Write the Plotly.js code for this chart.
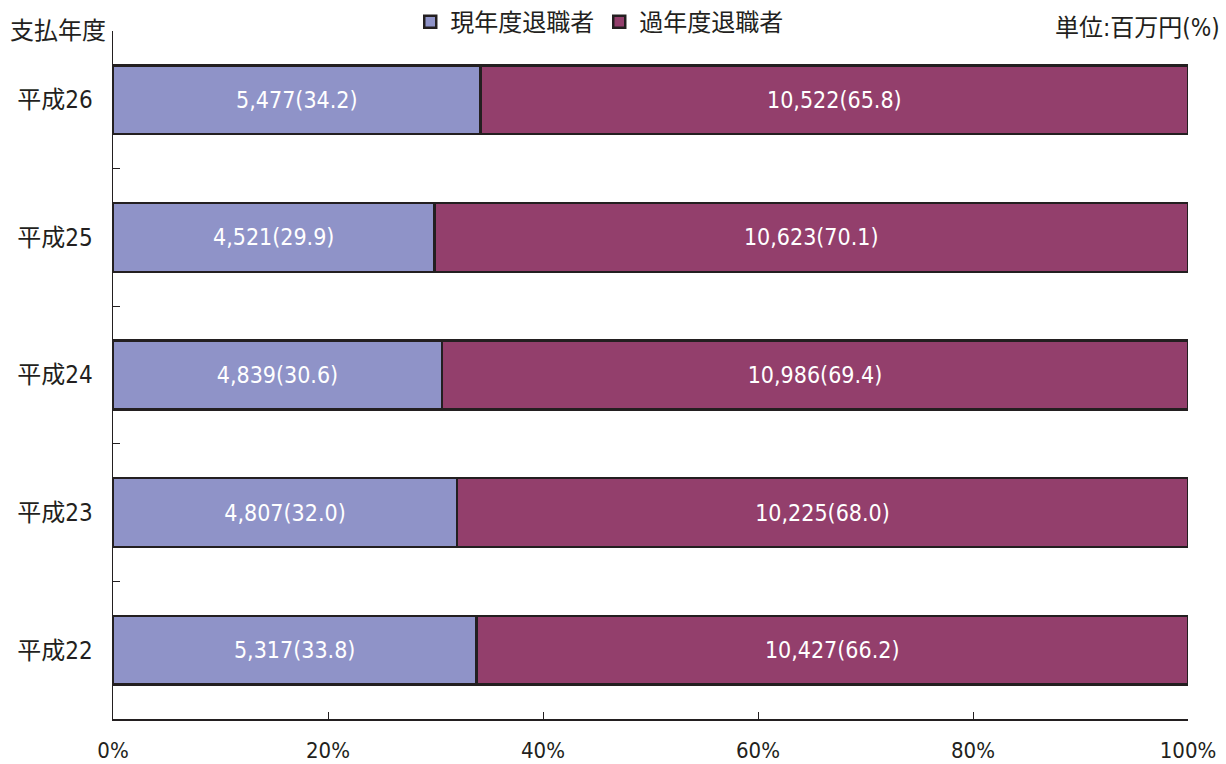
<!DOCTYPE html>
<html><head><meta charset="utf-8">
<script src="https://cdn.plot.ly/plotly-3.0.1.min.js"></script>
<style>body{margin:0;background:#fff}#c{width:1226px;height:764px}</style>
</head><body><div id="c"></div>
<script>
const years = ["平成22","平成23","平成24","平成25","平成26"];
const currentAmt = [5317, 4807, 4839, 4521, 5477];
const currentPct = [33.8, 32.0, 30.6, 29.9, 34.2];
const pastAmt = [10427, 10225, 10986, 10623, 10522];
const pastPct = [66.2, 68.0, 69.4, 70.1, 65.8];
const seriesNames = ["現年度退職者", "過年度退職者"];
const xTicks = [0, 20, 40, 60, 80, 100];

const fmt = (a, p) => a.toLocaleString("en-US") + "(" + p.toFixed(1) + ")";
const font = '"DejaVu Sans Condensed", "Noto Sans CJK JP", sans-serif';
const ink = "#231F20";

const mk = (name, amt, pct, color) => ({
  type: "bar", orientation: "h", name: name,
  y: years, x: pct,
  text: amt.map((a, i) => fmt(a, pct[i])),
  textposition: "inside", insidetextanchor: "middle",
  textfont: {family: font, size: 23, color: "#ffffff"},
  marker: {color: color, line: {color: ink, width: 2.5}},
  hoverinfo: "skip"
});

const data = [
  mk(seriesNames[0], currentAmt, currentPct, "#8F93C8"),
  mk(seriesNames[1], pastAmt, pastPct, "#933F6C")
];

const layout = {
  width: 1226, height: 764,
  margin: {l: 113, r: 38, t: 31, b: 45, autoexpand: false},
  paper_bgcolor: "#fff", plot_bgcolor: "#fff",
  barmode: "stack", bargap: 0.5,
  font: {family: font, size: 24, color: ink},
  showlegend: true,
  legend: {orientation: "h", x: 0.2765, xanchor: "left", y: 1.013, yanchor: "middle",
           font: {size: 24, color: ink}, traceorder: "normal", itemwidth: 30},
  xaxis: {range: [0, 100], tickvals: xTicks, ticktext: xTicks.map(v => v + "%"),
          showgrid: false, zeroline: false, showline: true, linecolor: ink, linewidth: 1.5,
          ticks: "inside", ticklen: 7, tickcolor: ink, tickwidth: 1,
          ticklabelstandoff: 11, tickfont: {size: 22, color: ink}, fixedrange: true},
  yaxis: {categoryorder: "array", categoryarray: years,
          showgrid: false, zeroline: false, showline: true, linecolor: ink, linewidth: 1.5,
          ticks: "inside", tickson: "boundaries", ticklen: 7, tickcolor: ink, tickwidth: 1,
          ticklabelstandoff: 14, tickfont: {size: 24, color: ink}, fixedrange: true},
  annotations: [
    {text: "支払年度", xref: "paper", yref: "paper", x: -0.0045, y: 1.0, xanchor: "right", yanchor: "middle",
     showarrow: false, font: {size: 24, color: ink}},
    {text: "単位:百万円(%)", xref: "paper", yref: "paper", x: 1.0317, y: 1.004, xanchor: "right", yanchor: "middle",
     showarrow: false, font: {size: 24, color: ink}}
  ]
};

Plotly.newPlot("c", data, layout, {displayModeBar: false, staticPlot: true});
</script></body></html>
